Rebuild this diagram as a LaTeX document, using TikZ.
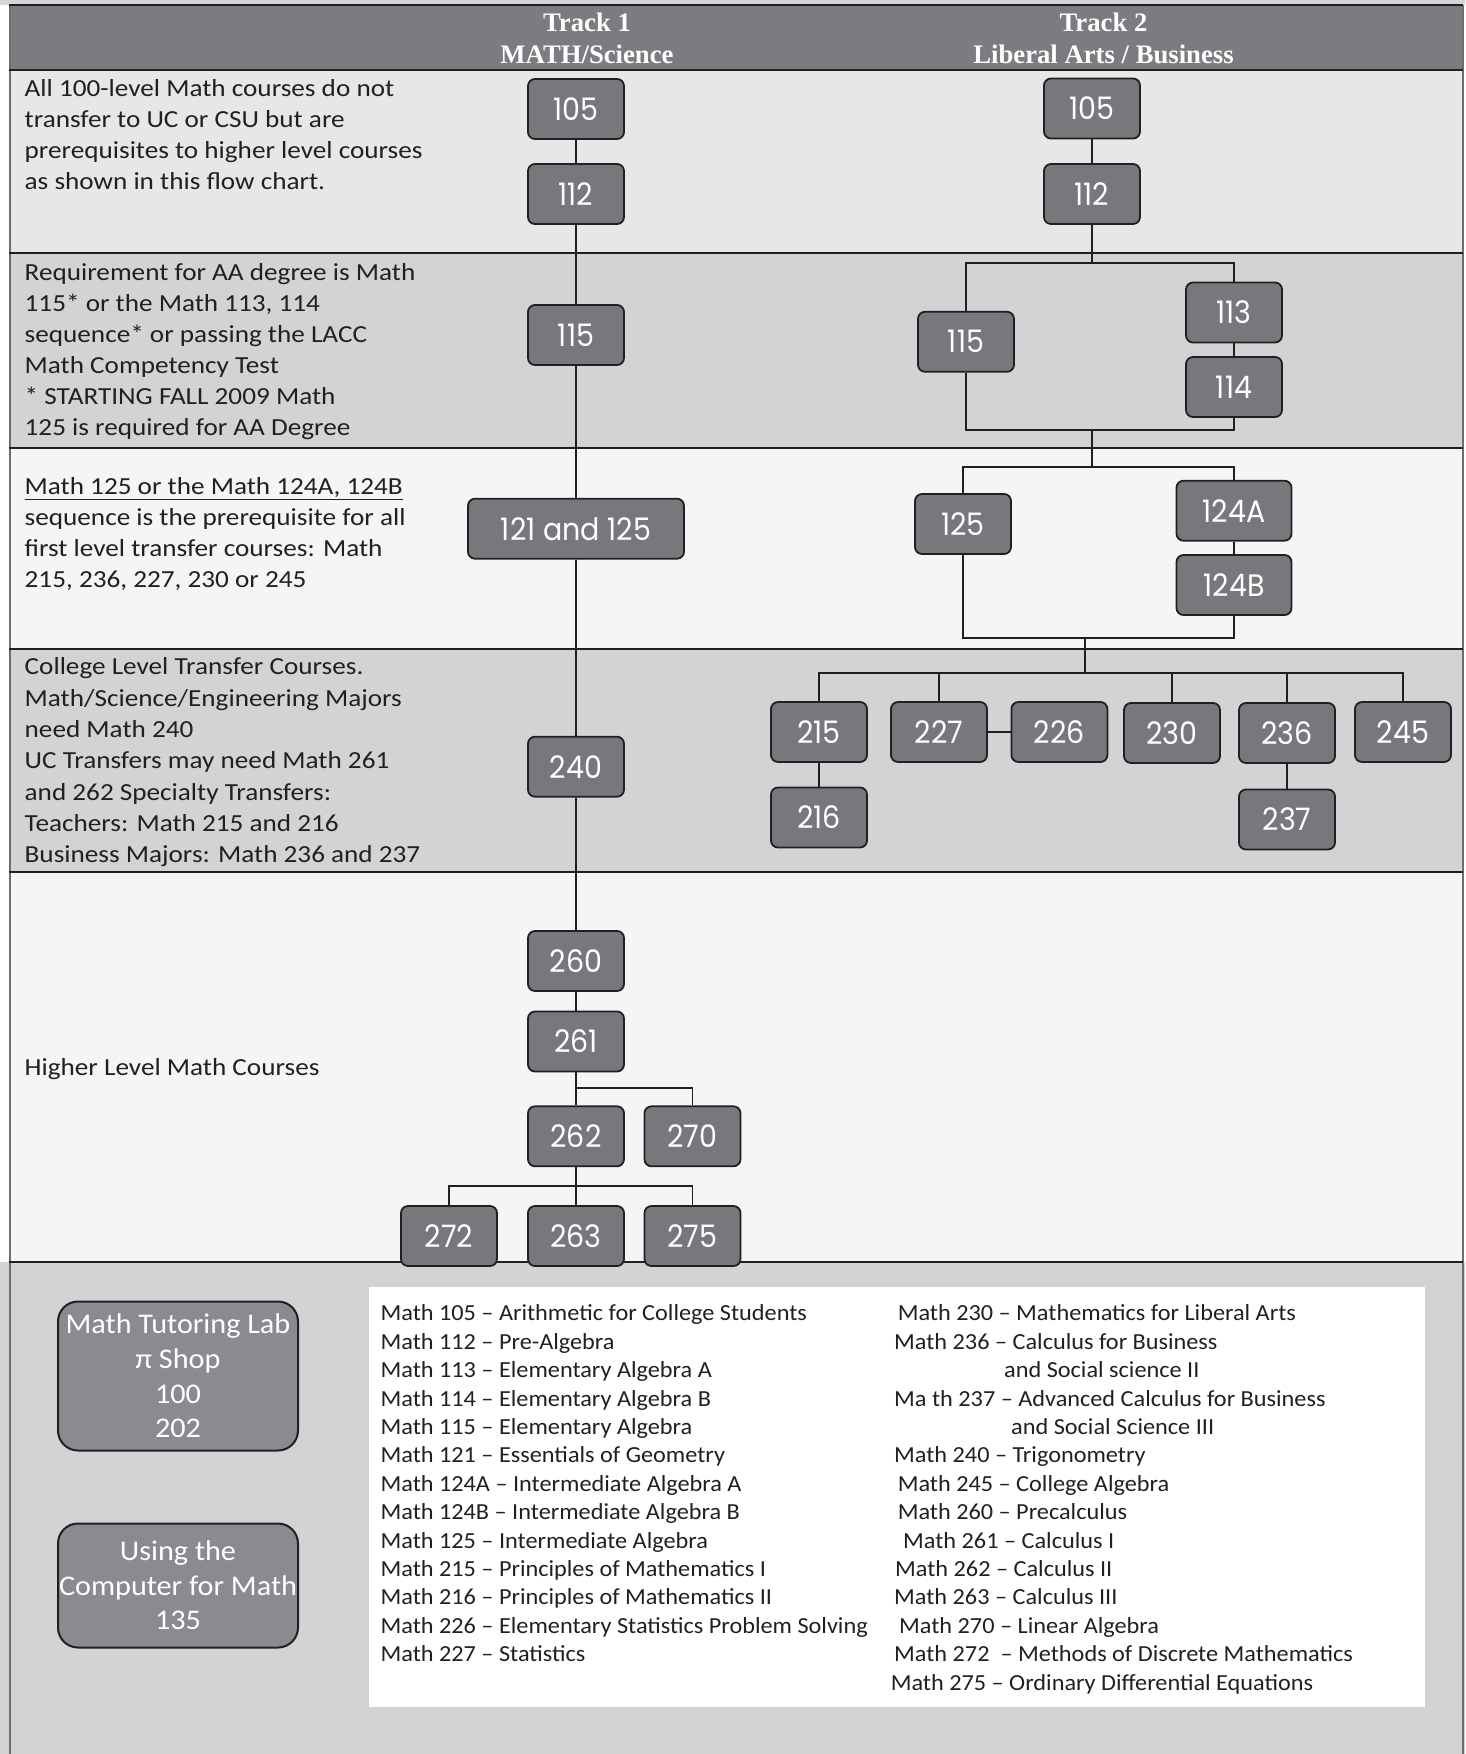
\documentclass[tikz,border=0pt]{standalone}
\usepackage{fontspec}
\setmainfont{Carlito}
\newfontfamily\lefttxtfont[FakeStretch=1.11]{Carlito}
\newfontfamily\legfont[FakeStretch=1.055]{Carlito}
\newfontfamily\labfont[FakeStretch=1.06]{Carlito}
\newfontfamily\hdrfont{Liberation Serif}
\newfontfamily\boxfont[FakeStretch=0.92]{Poppins}
\definecolor{linec}{HTML}{231F20}
\definecolor{txtc}{HTML}{231F20}
\definecolor{topc}{HTML}{D4D5D7}
\definecolor{hdrc}{HTML}{7B7C80}
\definecolor{rowa}{HTML}{E6E7E6}
\definecolor{rowb}{HTML}{D2D3D5}
\definecolor{rowc}{HTML}{F5F5F5}
\definecolor{boxc}{HTML}{77787C}
\definecolor{labc}{HTML}{8A8B8F}
\definecolor{borderc}{HTML}{6D6E71}
\begin{document}
\begin{tikzpicture}[x=1pt,y=-1pt,
  numbox/.style={draw=linec, line width=1.8pt, fill=boxc, rounded corners=7pt,
    minimum width=96pt, minimum height=60pt, inner sep=0pt, text=white,
    font=\boxfont\fontsize{31}{31}\selectfont},
  conn/.style={draw=linec, line width=1.8pt},
  sepline/.style={draw=linec, line width=2pt},
  lefttxt/.style={anchor=base west, align=left, inner sep=0pt, text=txtc,
    font=\lefttxtfont\fontsize{24.5}{31}\selectfont},
  hdrtxt/.style={anchor=base, align=center, inner sep=0pt, text=white,
    font=\hdrfont\bfseries\fontsize{26.7}{32.3}\selectfont},
  labbox/.style={draw=linec, line width=2pt, fill=labc, rounded corners=20pt,
    minimum width=240pt, inner sep=0pt, text=white, align=center,
    font=\labfont\fontsize{28.5}{34.6}\selectfont},
  legtxt/.style={anchor=base west, align=left, inner sep=0pt, text=txtc,
    font=\legfont\fontsize{23}{28.4}\selectfont}
]
\useasboundingbox (0,0) rectangle (1465,1754);
% backgrounds
\fill[topc] (0,0) rectangle (1465,5);
\fill[hdrc] (9,5) rectangle (1463,70);
\fill[rowa] (9,70) rectangle (1463,253);
\fill[rowb] (9,253) rectangle (1463,448);
\fill[rowc] (9,448) rectangle (1463,649);
\fill[rowb] (9,649) rectangle (1463,872);
\fill[rowc] (9,872) rectangle (1463,1262);
\fill[rowb] (0,1262) rectangle (1465,1754);
% borders and row separators
\draw[borderc, line width=2pt] (9.5,5) -- (9.5,1754);
\draw[borderc, line width=2pt] (1463,5) -- (1463,1754);
\foreach \yy in {5,70,253,448,649,872,1262} {
  \draw[sepline] (9,\yy) -- (1463,\yy);
}
% header (base anchor = baseline of last line)
\node[hdrtxt] (h1) at (587,63.8) {Track 1\\MATH/Science};
\node[hdrtxt] (h2) at (1103.5,63.8) {Track 2\\Liberal Arts / Business};
% left texts
\node[lefttxt] (t1) at (24.5,189.8) {All 100-level Math courses do not\\transfer to UC or CSU but are\\prerequisites to higher level courses\\as shown in this flow chart.};
\node[lefttxt] (t2) at (24.5,435.8) {Requirement for AA degree is Math\\115* or the Math 113, 114\\sequence* or passing the LACC\\Math Competency Test\\* STARTING FALL 2009 Math\\125 is required for AA Degree};
\node[lefttxt] (t3) at (24.5,587.2) {\underline{Math 125 or the Math 124A, 124B}\\sequence is the prerequisite for all\\first level transfer courses: Math\\215, 236, 227, 230 or 245};
\node[lefttxt, font=\lefttxtfont\fontsize{24.5}{31.3}\selectfont] (t4) at (24.5,862.6) {College Level Transfer Courses.\\Math/Science/Engineering Majors\\need Math 240\\UC Transfers may need Math 261\\and 262 Specialty Transfers:\\Teachers: Math 215 and 216\\Business Majors: Math 236 and 237};
\node[lefttxt] (t5) at (24.5,1075.8) {Higher Level Math Courses};
% track 1 boxes
\node[numbox] (a105) at (576,109) {105};
\node[numbox] (a112) at (576,194) {112};
\node[numbox] (a115) at (576,335) {115};
\node[numbox, minimum width=216pt] (a121) at (576,528.7) {121 and 125};
\node[numbox] (a240) at (576,766.7) {240};
\node[numbox] (a260) at (576,961) {260};
\node[numbox] (a261) at (576,1041.5) {261};
\node[numbox] (a262) at (576,1136.3) {262};
\node[numbox] (a270) at (692.5,1136.3) {270};
\node[numbox] (a272) at (449,1236) {272};
\node[numbox] (a263) at (576,1236) {263};
\node[numbox] (a275) at (692.5,1236) {275};
% track 2 boxes
\node[numbox] (b105) at (1092,108.5) {105};
\node[numbox] (b112) at (1092,194) {112};
\node[numbox] (b115) at (966,341.8) {115};
\node[numbox] (b113) at (1234,312.5) {113};
\node[numbox] (b114) at (1234,387) {114};
\node[numbox] (b125) at (963,524) {125};
\node[numbox, minimum width=115pt] (b124A) at (1234,510.7) {124A};
\node[numbox, minimum width=115pt] (b124B) at (1234,585) {124B};
\node[numbox] (c215) at (819,732) {215};
\node[numbox] (c227) at (939,732) {227};
\node[numbox] (c226) at (1059.4,732) {226};
\node[numbox] (c230) at (1172,733) {230};
\node[numbox] (c236) at (1287,733) {236};
\node[numbox] (c245) at (1403,732) {245};
\node[numbox] (c216) at (819,817.5) {216};
\node[numbox] (c237) at (1287,819.5) {237};
% junction coordinates
\coordinate (j1) at (576,1087.7);
\coordinate (j2) at (576,1185.7);
\coordinate (j3) at (1092,262.7);
\coordinate (j4) at (1092,430.3);
\coordinate (j5) at (1092,466.7);
\coordinate (j6) at (1085,637.7);
\coordinate (j7) at (1085,672.7);
% track 1 connectors
\draw[conn] (a105) -- (a112);
\draw[conn] (a112) -- (a115);
\draw[conn] (a115) -- (a121);
\draw[conn] (a121) -- (a240);
\draw[conn] (a240) -- (a260);
\draw[conn] (a260) -- (a261);
\draw[conn] (a261) -- (a262);
\draw[conn] (j1) -| (a270.north);
\draw[conn] (a262) -- (a263);
\draw[conn] (a272.north) |- (j2) -| (a275.north);
% track 2 connectors
\draw[conn] (b105) -- (b112);
\draw[conn] (b112) -- (j3);
\draw[conn] (b115.north) |- (j3) -| (b113.north);
\draw[conn] (b113) -- (b114);
\draw[conn] (b115.south) |- (j4) -| (b114.south);
\draw[conn] (j4) -- (j5);
\draw[conn] (b125.north) |- (j5) -| (b124A.north);
\draw[conn] (b124A) -- (b124B);
\draw[conn] (b125.south) |- (j6) -| (b124B.south);
\draw[conn] (j6) -- (j7);
\draw[conn] (c215.north) |- (j7) -| (c245.north);
\draw[conn] (c227.north) -- (c227.north |- j7);
\draw[conn] (c230.north) -- (c230.north |- j7);
\draw[conn] (c236.north) -- (c236.north |- j7);
\draw[conn] (c227) -- (c226);
\draw[conn] (c215) -- (c216);
\draw[conn] (c236) -- (c237);
% bottom section
\node[labbox, minimum height=149pt] (lab) at (178,1376) {Math Tutoring Lab\\π Shop\\100\\202};
\node[labbox, minimum height=124pt] (comp) at (178,1585.5) {Using the\\Computer for Math\\135};
\fill[white] (369,1286.7) rectangle (1425,1707.3);
\node[legtxt] (legl) at (380.4,1661.6) {Math 105 – Arithmetic for College Students\\Math 112 – Pre-Algebra\\Math 113 – Elementary Algebra A\\Math 114 – Elementary Algebra B\\Math 115 – Elementary Algebra\\Math 121 – Essentials of Geometry\\Math 124A – Intermediate Algebra A\\Math 124B – Intermediate Algebra B\\Math 125 – Intermediate Algebra\\Math 215 – Principles of Mathematics I\\Math 216 – Principles of Mathematics II\\Math 226 – Elementary Statistics Problem Solving\\Math 227 – Statistics};
\node[legtxt] (legr) at (894,1690) {\hspace*{3.6pt}Math 230 – Mathematics for Liberal Arts\\Math 236 – Calculus for Business\\\hspace*{110pt}and Social science II\\Ma th 237 – Advanced Calculus for Business\\\hspace*{117pt}and Social Science III\\Math 240 – Trigonometry\\\hspace*{3.6pt}Math 245 – College Algebra\\\hspace*{3.6pt}Math 260 – Precalculus\\\hspace*{9pt}Math 261 – Calculus I\\\hspace*{1pt}Math 262 – Calculus II\\Math 263 – Calculus III\\\hspace*{5pt}Math 270 – Linear Algebra\\Math 272\ \ – Methods of Discrete Mathematics\\\hspace*{-3.4pt}Math 275 – Ordinary Differential Equations};
\end{tikzpicture}
\end{document}
